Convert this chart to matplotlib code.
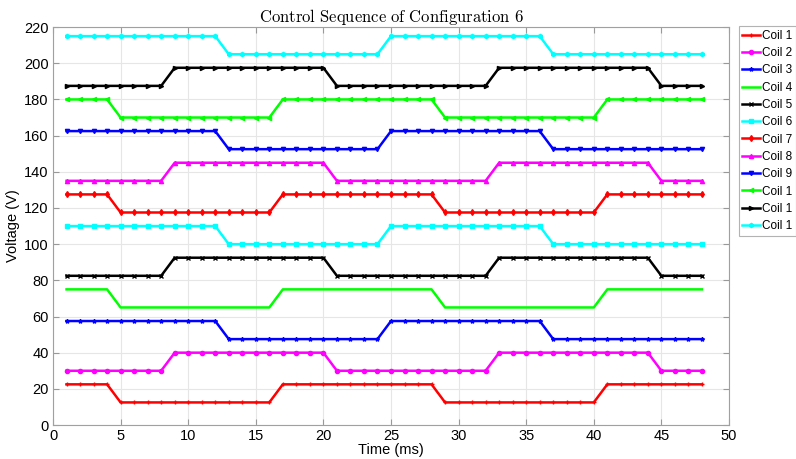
import matplotlib.pyplot as plt
import numpy as np

plt.rcParams['font.family'] = ['Liberation Sans', 'DejaVu Sans']
plt.rcParams['mathtext.fontset'] = 'cm'

# czas (ms)
time_ms = list(range(1, 49))

# napięcia cewek
coil_1 = [22.5] * 4 + [12.5] * 12 + [22.5] * 12 + [12.5] * 12 + [22.5] * 8
coil_2 = [30] * 8 + [40] * 12 + [30] * 12 + [40] * 12 + [30] * 4
coil_3 = [57.5] * 12 + [47.5] * 12 + [57.5] * 12 + [47.5] * 12
coil_4 = [75] * 4 + [65] * 12 + [75] * 12 + [65] * 12 + [75] * 8
coil_5 = [82.5] * 8 + [92.5] * 12 + [82.5] * 12 + [92.5] * 12 + [82.5] * 4
coil_6 = [110] * 12 + [100] * 12 + [110] * 12 + [100] * 12
coil_7 = [127.5] * 4 + [117.5] * 12 + [127.5] * 12 + [117.5] * 12 + [127.5] * 8
coil_8 = [135] * 8 + [145] * 12 + [135] * 12 + [145] * 12 + [135] * 4
coil_9 = [162.5] * 12 + [152.5] * 12 + [162.5] * 12 + [152.5] * 12
coil_10 = [180] * 4 + [170] * 12 + [180] * 12 + [170] * 12 + [180] * 8
coil_11 = [187.5] * 8 + [197.5] * 12 + [187.5] * 12 + [197.5] * 12 + [187.5] * 4
coil_12 = [215] * 12 + [205] * 12 + [215] * 12 + [205] * 12

series = [coil_1, coil_2, coil_3, coil_4, coil_5, coil_6,
          coil_7, coil_8, coil_9, coil_10, coil_11, coil_12]
# legenda w oryginale jest ucięta przy prawej krawędzi – widać tylko "Coil 1"
labels = ['Coil 1', 'Coil 2', 'Coil 3', 'Coil 4', 'Coil 5', 'Coil 6',
          'Coil 7', 'Coil 8', 'Coil 9', 'Coil 1', 'Coil 1', 'Coil 1']

colors = ['#ff0000', '#ff00ff', '#0000ff', '#00ff00', '#000000', '#00ffff']
markers = ['+', 'o', '*', '', 'x', 's', 'd', '^', 'v', '<', '>', 'h']

fig = plt.figure(figsize=(7.96, 4.59), dpi=100)
ax = fig.add_axes([0.0666, 0.074, 0.8492, 0.867])

for i, (vals, lab) in enumerate(zip(series, labels)):
    c = colors[i % 6]
    ax.plot(time_ms, vals, color=c, linewidth=1.8, marker=markers[i],
            markersize=3, markeredgewidth=1.0, label=lab)

ax.set_xlim(0, 50)
ax.set_ylim(0, 220)
ax.set_xticks(np.arange(0, 51, 5))
ax.set_yticks(np.arange(0, 221, 20))
ax.grid(True, color='#e6e6e6', linewidth=0.8)
ax.set_axisbelow(True)
ax.tick_params(direction='in', length=4, color='#999999', labelsize=10.5,
               top=True, right=True, pad=3)
for sp in ax.spines.values():
    sp.set_color('#a0a0a0')
    sp.set_linewidth(0.8)

ax.set_xlabel('Time (ms)', fontsize=10.5, labelpad=0)
ax.set_ylabel('Voltage (V)', fontsize=10.5, labelpad=3)
ax.set_title(r'$\mathrm{Control\ Sequence\ of\ Configuration\ 6}$',
             fontsize=12, pad=4)

leg = fig.legend(loc='upper left', bbox_to_anchor=(0.928, 0.943),
                 fontsize=8.5, frameon=True, fancybox=False,
                 handlelength=1.5, handletextpad=0.2, labelspacing=0.45,
                 borderpad=0.3, borderaxespad=0)
leg.get_frame().set_edgecolor('#a0a0a0')
leg.get_frame().set_linewidth(0.8)

fig.savefig('out.png', dpi=100)
